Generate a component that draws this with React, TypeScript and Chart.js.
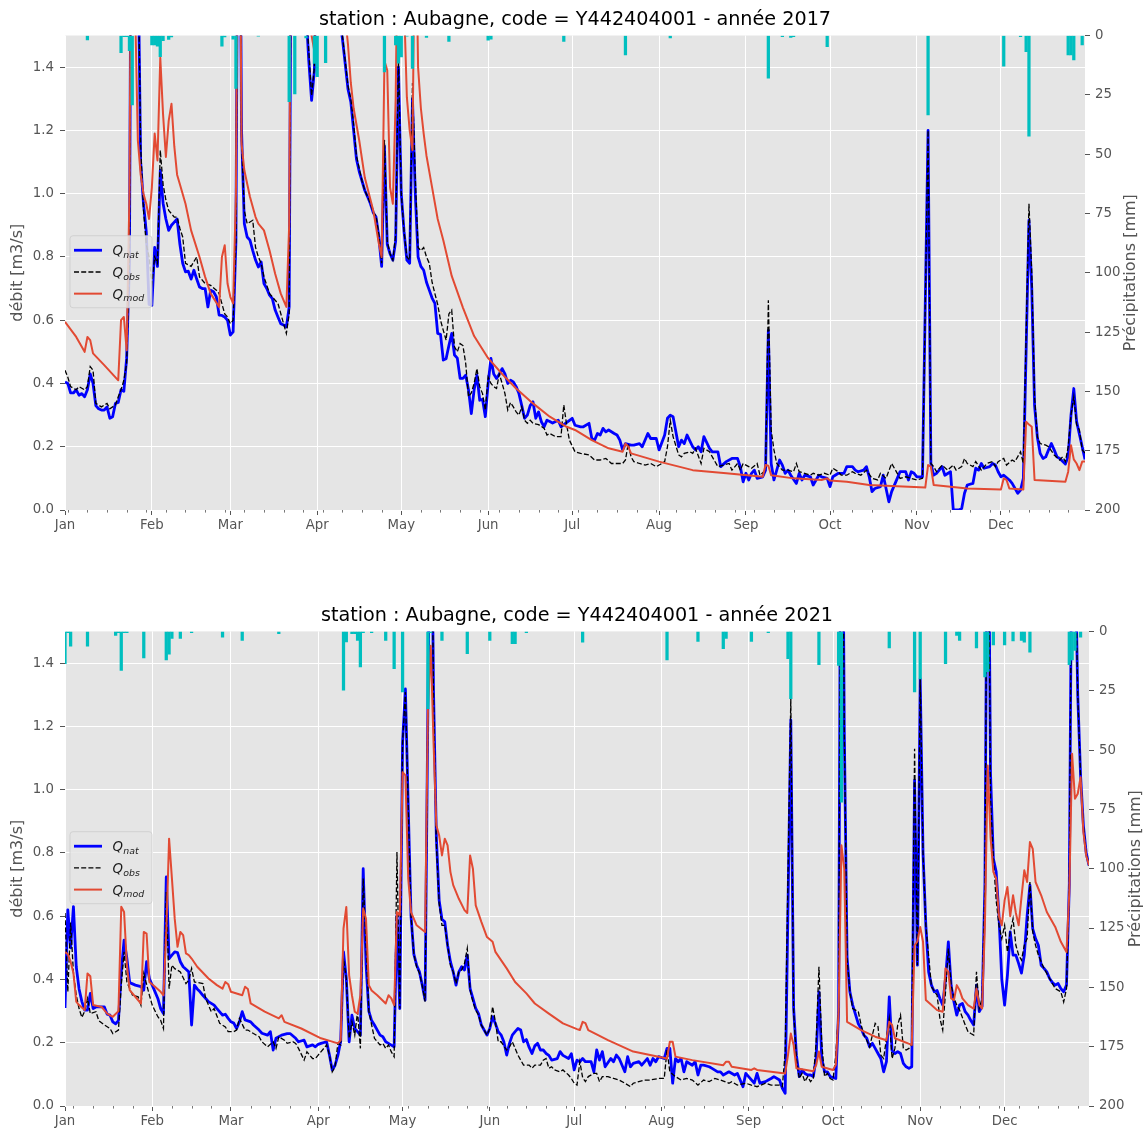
import React, { useEffect, useRef } from "react";
import { Chart, registerables } from "chart.js";

Chart.register(...registerables);
Chart.defaults.font.family = '"DejaVu Sans", sans-serif';

type P = [number, number];

// ---------- axes / labels ----------
const MONTH_STARTS = [0, 31, 59, 90, 120, 151, 181, 212, 243, 273, 304, 334];
const MONTH_LABELS = ["Jan", "Feb", "Mar", "Apr", "May", "Jun", "Jul", "Aug", "Sep", "Oct", "Nov", "Dec"];
const FLOW_TICKS = [0, 0.2, 0.4, 0.6, 0.8, 1.0, 1.2, 1.4];
const RAIN_TICKS = [0, 25, 50, 75, 100, 125, 150, 175, 200];
const FIRST_MONDAY_2017 = 1;
const FIRST_MONDAY_2021 = 3;
const TITLE_2017 = "station : Aubagne, code = Y442404001 - année 2017";
const TITLE_2021 = "station : Aubagne, code = Y442404001 - année 2021";
const Y_LABEL = "débit [m3/s]";
const Y2_LABEL = "Précipitations [mm]";

// ---------- 2017 (day of year, value) ----------
const QNAT_2017: P[] = [
  [0,0.405],[1,0.40],[2,0.37],[3,0.37],[4,0.38],[5,0.363],[6,0.368],[7,0.358],[8,0.38],[9,0.43],[10,0.40],[11,0.33],[12,0.32],[13,0.316],[14,0.316],[15,0.326],[16,0.29],[17,0.295],[18,0.337],[19,0.34],[20,0.38],[21,0.375],[22,0.48],[23,0.78],[24,2.8],[25,2.6],[26,1.8],[27,1.1],[28,0.97],[29,0.88],[30,0.65],[31,0.647],[32,0.83],[33,0.77],[34,1.074],[35,0.97],[36,0.92],[37,0.884],[38,0.90],[39,0.91],[40,0.92],[41,0.84],[42,0.78],[43,0.753],[44,0.755],[45,0.73],[46,0.758],[47,0.73],[48,0.705],[49,0.70],[50,0.70],[51,0.642],[52,0.695],[53,0.69],[54,0.674],[55,0.616],[56,0.615],[57,0.61],[58,0.60],[59,0.553],[60,0.563],[61,0.85],[62,2.6],[63,1.2],[64,0.905],[65,0.863],[66,0.853],[67,0.82],[68,0.79],[69,0.768],[70,0.784],[71,0.716],[72,0.70],[73,0.679],[74,0.668],[75,0.632],[76,0.61],[77,0.589],[78,0.585],[79,0.579],[80,0.642],[81,2.4],[82,3.0],[83,2.6],[84,2.2],[85,1.8],[86,1.58],[87,1.42],[88,1.295],[89,1.39],[90,2.0],[92,2.6],[95,2.2],[97,1.7],[98,1.55],[99,1.49],[100,1.41],[101,1.33],[102,1.29],[103,1.2],[104,1.11],[105,1.07],[106,1.04],[107,1.01],[108,0.99],[109,0.968],[110,0.94],[111,0.926],[112,0.863],[113,0.77],[114,1.15],[115,0.84],[116,0.81],[117,0.79],[118,0.85],[119,1.40],[120,1.0],[121,0.88],[122,0.79],[123,0.78],[124,1.30],[125,1.0],[126,0.80],[127,0.77],[128,0.758],[129,0.72],[130,0.695],[131,0.67],[132,0.653],[133,0.558],[134,0.555],[135,0.474],[136,0.478],[137,0.52],[138,0.558],[139,0.49],[140,0.48],[141,0.416],[142,0.416],[143,0.426],[144,0.379],[145,0.305],[146,0.38],[147,0.426],[148,0.347],[149,0.35],[150,0.295],[151,0.40],[152,0.479],[153,0.43],[154,0.416],[155,0.43],[156,0.447],[157,0.43],[158,0.40],[159,0.41],[160,0.405],[161,0.39],[162,0.368],[163,0.33],[164,0.29],[165,0.30],[166,0.33],[167,0.342],[168,0.29],[169,0.31],[170,0.279],[171,0.263],[172,0.284],[173,0.28],[174,0.275],[176,0.284],[177,0.263],[178,0.27],[181,0.29],[182,0.268],[184,0.263],[185,0.263],[187,0.274],[188,0.226],[189,0.221],[190,0.242],[191,0.237],[192,0.258],[193,0.247],[194,0.253],[196,0.242],[197,0.237],[198,0.221],[199,0.19],[200,0.21],[202,0.205],[203,0.205],[205,0.21],[206,0.2],[208,0.242],[209,0.226],[211,0.226],[212,0.19],[214,0.237],[215,0.29],[216,0.30],[217,0.295],[219,0.20],[220,0.221],[221,0.21],[222,0.237],[224,0.20],[225,0.19],[226,0.2],[227,0.184],[228,0.232],[230,0.195],[231,0.184],[233,0.184],[234,0.137],[236,0.153],[238,0.163],[240,0.163],[241,0.137],[242,0.089],[243,0.116],[244,0.095],[245,0.116],[246,0.126],[247,0.10],[249,0.105],[250,0.126],[251,0.568],[252,0.147],[253,0.095],[254,0.126],[255,0.158],[256,0.142],[257,0.116],[258,0.126],[259,0.11],[261,0.084],[262,0.116],[263,0.095],[264,0.11],[266,0.105],[267,0.079],[269,0.11],[270,0.105],[272,0.10],[273,0.074],[274,0.105],[276,0.116],[278,0.116],[279,0.137],[281,0.137],[282,0.126],[283,0.121],[285,0.126],[286,0.137],[287,0.105],[288,0.058],[289,0.068],[291,0.074],[292,0.11],[293,0.068],[294,0.026],[295,0.058],[297,0.10],[298,0.121],[300,0.121],[301,0.095],[302,0.121],[303,0.116],[304,0.105],[306,0.105],[308,1.2],[309,0.147],[310,0.11],[311,0.116],[313,0.137],[314,0.11],[316,0.121],[317,0.0],[319,0.0],[320,0.005],[321,0.053],[322,0.079],[324,0.084],[325,0.132],[326,0.126],[327,0.147],[328,0.132],[330,0.137],[331,0.147],[332,0.142],[333,0.121],[334,0.105],[335,0.11],[337,0.095],[338,0.084],[340,0.053],[341,0.063],[342,0.1],[344,0.916],[345,0.70],[346,0.33],[347,0.23],[348,0.179],[349,0.163],[350,0.168],[351,0.19],[352,0.21],[353,0.19],[354,0.168],[355,0.163],[357,0.145],[358,0.17],[359,0.3],[360,0.384],[361,0.28],[362,0.24],[363,0.2],[364,0.16]
];

const QOBS_2017: P[] = [
  [0,0.442],[1,0.42],[2,0.39],[3,0.385],[4,0.38],[5,0.39],[7,0.38],[8,0.39],[9,0.453],[10,0.442],[11,0.337],[13,0.326],[15,0.337],[16,0.32],[18,0.332],[19,0.358],[20,0.38],[21,0.41],[22,0.463],[23,0.78],[24,2.8],[25,2.6],[26,1.8],[27,1.15],[28,0.95],[29,0.84],[30,0.80],[31,0.716],[32,0.80],[33,0.78],[34,1.137],[35,1.03],[36,0.98],[37,0.947],[39,0.926],[40,0.926],[41,0.89],[42,0.863],[43,0.78],[45,0.77],[47,0.80],[48,0.737],[50,0.716],[52,0.71],[54,0.695],[55,0.684],[57,0.62],[58,0.61],[59,0.589],[60,0.60],[61,0.85],[62,2.6],[63,1.168],[64,0.947],[65,0.905],[67,0.916],[68,0.83],[69,0.80],[70,0.78],[71,0.737],[73,0.684],[75,0.663],[76,0.653],[78,0.589],[79,0.558],[80,0.62],[81,2.4],[82,3.0],[83,2.6],[84,2.2],[85,1.8],[86,1.6],[87,1.45],[88,1.31],[89,1.40],[90,2.0],[92,2.6],[95,2.2],[97,1.7],[98,1.55],[99,1.50],[100,1.42],[101,1.34],[102,1.30],[103,1.22],[104,1.12],[105,1.08],[106,1.04],[107,1.01],[108,0.99],[109,0.97],[110,0.94],[111,0.93],[112,0.87],[113,0.78],[114,1.17],[115,0.85],[116,0.81],[117,0.79],[118,0.87],[119,1.43],[120,1.0],[121,0.88],[122,0.80],[123,0.79],[124,1.35],[125,1.05],[126,0.83],[127,0.82],[128,0.83],[129,0.80],[130,0.78],[131,0.72],[132,0.684],[133,0.65],[134,0.60],[135,0.568],[136,0.537],[137,0.62],[138,0.632],[139,0.516],[140,0.50],[141,0.526],[142,0.52],[143,0.463],[144,0.358],[145,0.37],[146,0.40],[147,0.447],[148,0.39],[149,0.368],[150,0.316],[151,0.42],[152,0.40],[153,0.39],[154,0.384],[155,0.43],[156,0.40],[157,0.368],[158,0.316],[159,0.34],[160,0.326],[161,0.31],[162,0.30],[163,0.326],[164,0.284],[165,0.274],[166,0.284],[167,0.274],[169,0.27],[171,0.258],[172,0.237],[173,0.242],[175,0.232],[177,0.232],[178,0.332],[179,0.27],[180,0.221],[182,0.184],[184,0.179],[187,0.174],[189,0.158],[191,0.158],[193,0.163],[195,0.147],[197,0.147],[199,0.147],[200,0.158],[201,0.21],[202,0.168],[203,0.153],[205,0.147],[207,0.142],[209,0.147],[211,0.137],[213,0.147],[214,0.153],[215,0.2],[216,0.284],[217,0.232],[219,0.174],[220,0.168],[221,0.179],[223,0.184],[224,0.179],[225,0.195],[227,0.147],[228,0.195],[230,0.184],[231,0.168],[233,0.137],[235,0.142],[237,0.147],[238,0.126],[240,0.147],[241,0.126],[242,0.147],[244,0.137],[245,0.132],[247,0.147],[248,0.11],[250,0.126],[251,0.663],[252,0.253],[253,0.19],[254,0.147],[256,0.126],[258,0.126],[260,0.121],[261,0.147],[262,0.121],[264,0.116],[266,0.11],[267,0.116],[269,0.11],[271,0.116],[273,0.11],[274,0.132],[276,0.121],[277,0.11],[279,0.11],[281,0.121],[282,0.116],[284,0.11],[286,0.126],[288,0.10],[290,0.095],[291,0.116],[293,0.10],[295,0.147],[297,0.116],[298,0.10],[300,0.105],[302,0.10],[304,0.095],[306,0.10],[308,1.2],[309,0.147],[310,0.137],[311,0.121],[313,0.142],[315,0.126],[317,0.142],[318,0.126],[320,0.137],[321,0.163],[322,0.147],[324,0.137],[325,0.153],[327,0.126],[329,0.147],[331,0.153],[332,0.137],[333,0.153],[335,0.163],[336,0.142],[338,0.158],[339,0.153],[341,0.184],[342,0.147],[344,0.968],[345,0.75],[346,0.358],[347,0.232],[348,0.21],[350,0.205],[351,0.2],[353,0.174],[355,0.158],[356,0.168],[357,0.153],[358,0.2],[359,0.3],[360,0.358],[361,0.27],[362,0.253],[363,0.19],[364,0.18]
];

const QMOD_2017: P[] = [
  [0,0.595],[4,0.547],[7,0.50],[8,0.547],[9,0.537],[10,0.495],[14,0.458],[19,0.41],[20,0.60],[21,0.61],[22,0.505],[23,1.0],[24,2.5],[25,1.6],[26,1.168],[27,1.06],[28,1.0],[29,0.968],[30,0.92],[31,1.02],[32,1.19],[33,1.105],[34,1.43],[35,1.25],[36,1.116],[37,1.23],[38,1.284],[39,1.15],[40,1.06],[41,1.03],[43,0.968],[45,0.884],[48,0.80],[50,0.737],[52,0.684],[55,0.642],[56,0.80],[57,0.837],[58,0.716],[59,0.674],[60,0.653],[61,1.0],[62,2.5],[63,1.158],[64,1.074],[66,0.99],[68,0.926],[69,0.905],[71,0.884],[73,0.82],[75,0.747],[77,0.684],[79,0.642],[80,0.9],[81,2.5],[84,2.4],[86,1.9],[88,1.5],[89,1.45],[90,2.0],[95,2.2],[99,1.7],[100,1.56],[101,1.47],[102,1.35],[103,1.27],[105,1.168],[107,1.05],[110,0.947],[112,0.842],[113,0.80],[114,1.42],[115,1.39],[116,1.02],[117,0.968],[118,1.3],[119,2.0],[120,2.0],[121,1.6],[122,1.305],[123,1.2],[124,1.137],[125,2.0],[126,1.4],[127,1.27],[128,1.19],[129,1.12],[131,1.02],[133,0.92],[135,0.853],[138,0.74],[142,0.64],[146,0.55],[151,0.48],[156,0.43],[161,0.384],[167,0.337],[173,0.295],[179,0.263],[182,0.253],[188,0.221],[194,0.195],[199,0.184],[200,0.21],[201,0.20],[202,0.179],[212,0.153],[224,0.126],[236,0.116],[249,0.105],[250,0.142],[251,0.14],[252,0.11],[260,0.10],[270,0.095],[272,0.10],[273,0.093],[279,0.089],[287,0.079],[299,0.074],[307,0.071],[308,0.142],[309,0.137],[310,0.079],[322,0.068],[334,0.065],[335,0.10],[336,0.095],[337,0.068],[342,0.065],[343,0.279],[344,0.27],[345,0.263],[346,0.095],[357,0.089],[358,0.121],[359,0.205],[360,0.16],[361,0.147],[362,0.126],[363,0.153],[364,0.153]
];

const RAIN_2017: P[] = [
  [8,1.9],[20,7.2],[21,0.5],[22,0.5],[23,6.4],[24,29.3],[31,4],[32,4],[33,4.5],[34,8.9],[35,2.2],[37,1.6],[38,0.6],[56,4.5],[57,0.6],[60,1.5],[61,22.3],[69,0.3],[80,27.9],[82,24.6],[86,1],[89,11.8],[90,17.4],[93,11.5],[114,15.3],[118,4],[119,11.7],[120,9],[122,0.3],[124,13.9],[129,0.8],[137,2.5],[151,2],[152,1.5],[178,2.5],[200,8.2],[216,1],[251,18],[256,0.5],[259,0.8],[260,0.5],[272,4.7],[308,33.5],[335,12.9],[341,0.5],[343,6.8],[344,42.4],[358,8.2],[359,8.2],[360,10.3],[363,4]
];

// ---------- 2021 (day of year, value) ----------
const QNAT_2021: P[] = [
  [0,0.31],[1,0.62],[2,0.50],[3,0.63],[4,0.44],[5,0.37],[6,0.33],[7,0.303],[8,0.303],[9,0.356],[10,0.308],[11,0.313],[12,0.313],[14,0.313],[15,0.29],[16,0.287],[17,0.266],[18,0.26],[19,0.27],[20,0.424],[21,0.524],[22,0.466],[23,0.39],[25,0.382],[27,0.377],[28,0.366],[29,0.456],[30,0.403],[31,0.382],[33,0.34],[34,0.308],[35,0.292],[36,0.724],[37,0.466],[38,0.477],[39,0.487],[40,0.485],[41,0.456],[42,0.44],[43,0.432],[44,0.424],[45,0.256],[46,0.382],[47,0.37],[48,0.361],[49,0.35],[51,0.33],[53,0.319],[54,0.308],[56,0.287],[57,0.29],[58,0.277],[59,0.266],[60,0.262],[61,0.245],[62,0.266],[63,0.298],[64,0.272],[66,0.266],[67,0.256],[69,0.24],[70,0.23],[72,0.224],[73,0.235],[74,0.177],[75,0.214],[77,0.224],[79,0.229],[80,0.229],[82,0.214],[83,0.203],[85,0.208],[86,0.187],[88,0.193],[89,0.187],[90,0.195],[91,0.198],[93,0.203],[94,0.161],[95,0.114],[96,0.129],[97,0.16],[98,0.205],[99,0.487],[100,0.403],[101,0.203],[102,0.287],[103,0.245],[104,0.235],[105,0.224],[106,0.75],[107,0.45],[108,0.30],[109,0.27],[110,0.256],[111,0.24],[112,0.224],[113,0.219],[114,0.203],[115,0.198],[117,0.187],[118,0.603],[119,0.308],[120,1.15],[121,1.318],[122,0.95],[123,0.6],[124,0.48],[125,0.445],[126,0.424],[127,0.382],[128,0.335],[130,2.2],[131,1.31],[132,0.85],[133,0.65],[134,0.59],[135,0.582],[136,0.508],[137,0.456],[138,0.424],[139,0.382],[140,0.424],[141,0.44],[142,0.43],[143,0.477],[144,0.371],[145,0.34],[146,0.308],[147,0.292],[148,0.256],[150,0.224],[151,0.245],[152,0.282],[153,0.26],[154,0.235],[155,0.225],[156,0.203],[157,0.161],[158,0.198],[159,0.224],[160,0.235],[161,0.245],[162,0.24],[163,0.203],[164,0.21],[165,0.185],[166,0.166],[167,0.19],[168,0.198],[169,0.177],[170,0.177],[171,0.166],[172,0.16],[173,0.145],[175,0.15],[176,0.172],[177,0.16],[179,0.15],[180,0.165],[181,0.114],[182,0.145],[183,0.14],[184,0.15],[185,0.14],[187,0.14],[188,0.108],[189,0.177],[190,0.145],[191,0.172],[192,0.124],[194,0.15],[195,0.14],[196,0.161],[197,0.15],[199,0.108],[200,0.156],[201,0.124],[202,0.135],[204,0.14],[205,0.129],[207,0.15],[208,0.129],[209,0.15],[210,0.14],[211,0.156],[213,0.15],[214,0.182],[215,0.182],[216,0.072],[217,0.15],[218,0.14],[219,0.15],[220,0.108],[221,0.14],[223,0.129],[224,0.14],[225,0.098],[226,0.129],[227,0.129],[229,0.124],[230,0.119],[232,0.108],[233,0.108],[234,0.098],[236,0.108],[238,0.098],[239,0.103],[240,0.082],[241,0.061],[242,0.103],[243,0.093],[245,0.072],[246,0.103],[247,0.072],[249,0.077],[250,0.082],[251,0.087],[252,0.093],[254,0.082],[255,0.056],[256,0.04],[258,1.22],[259,0.31],[260,0.16],[261,0.093],[262,0.114],[263,0.103],[264,0.098],[265,0.098],[266,0.093],[267,0.15],[268,0.361],[269,0.15],[270,0.108],[271,0.108],[272,0.093],[274,0.087],[275,0.3],[276,2.6],[277,1.2],[278,0.47],[279,0.361],[280,0.319],[282,0.26],[283,0.245],[284,0.224],[285,0.214],[286,0.187],[287,0.198],[288,0.182],[289,0.166],[290,0.15],[291,0.108],[292,0.14],[293,0.345],[294,0.175],[295,0.166],[296,0.172],[297,0.166],[298,0.135],[299,0.124],[300,0.119],[301,0.124],[302,1.03],[303,0.445],[304,1.35],[305,0.8],[306,0.571],[307,0.424],[308,0.382],[309,0.361],[310,0.365],[311,0.34],[312,0.319],[313,0.403],[314,0.519],[315,0.38],[316,0.329],[317,0.287],[318,0.319],[319,0.324],[320,0.298],[321,0.287],[322,0.27],[323,0.256],[324,0.382],[325,0.298],[326,0.315],[327,0.7],[328,2.2],[329,1.05],[330,0.782],[331,0.74],[332,0.6],[333,0.4],[334,0.319],[335,0.413],[336,0.55],[337,0.477],[338,0.477],[339,0.45],[340,0.42],[341,0.477],[342,0.6],[343,0.698],[344,0.56],[345,0.529],[346,0.508],[347,0.445],[348,0.435],[349,0.424],[350,0.403],[351,0.39],[352,0.382],[353,0.387],[354,0.371],[355,0.361],[356,0.382],[357,0.7],[358,2.0],[359,1.8],[360,1.3],[361,1.045],[362,0.887],[363,0.8],[364,0.76]
];

const QOBS_2021: P[] = [
  [0,0.61],[1,0.361],[2,0.58],[3,0.42],[4,0.35],[5,0.308],[6,0.28],[7,0.30],[8,0.34],[9,0.292],[11,0.298],[12,0.27],[14,0.256],[16,0.245],[17,0.229],[19,0.24],[20,0.382],[21,0.487],[22,0.392],[24,0.35],[26,0.345],[27,0.319],[28,0.419],[30,0.35],[31,0.319],[33,0.282],[34,0.271],[35,0.245],[36,0.676],[37,0.371],[38,0.445],[39,0.434],[41,0.424],[43,0.387],[44,0.398],[45,0.435],[46,0.392],[49,0.387],[50,0.34],[52,0.298],[53,0.308],[55,0.261],[57,0.25],[58,0.235],[60,0.235],[61,0.24],[62,0.277],[64,0.24],[65,0.24],[67,0.229],[69,0.219],[70,0.203],[72,0.187],[74,0.203],[75,0.182],[76,0.219],[78,0.208],[79,0.198],[81,0.203],[82,0.198],[83,0.182],[85,0.145],[86,0.171],[88,0.15],[89,0.15],[90,0.161],[92,0.182],[93,0.193],[94,0.161],[95,0.108],[96,0.124],[97,0.198],[98,0.193],[99,0.466],[100,0.403],[101,0.214],[102,0.266],[103,0.224],[104,0.298],[105,0.182],[106,0.719],[107,0.508],[108,0.3],[109,0.256],[110,0.214],[111,0.203],[112,0.193],[113,0.198],[114,0.182],[115,0.193],[116,0.171],[117,0.156],[118,0.803],[119,0.308],[120,1.15],[121,1.308],[122,0.95],[123,0.6],[124,0.48],[125,0.44],[126,0.42],[127,0.38],[128,0.33],[130,2.2],[131,1.29],[132,0.83],[133,0.64],[134,0.571],[135,0.571],[136,0.508],[137,0.445],[138,0.424],[139,0.387],[140,0.424],[141,0.43],[142,0.45],[143,0.498],[144,0.366],[145,0.329],[146,0.303],[147,0.287],[148,0.256],[150,0.224],[151,0.245],[152,0.314],[153,0.266],[154,0.203],[155,0.203],[157,0.177],[158,0.187],[159,0.203],[160,0.182],[161,0.161],[163,0.129],[165,0.129],[166,0.119],[167,0.129],[169,0.129],[170,0.145],[171,0.15],[172,0.119],[173,0.124],[174,0.114],[176,0.108],[177,0.114],[179,0.098],[180,0.087],[181,0.072],[182,0.066],[183,0.14],[184,0.09],[185,0.077],[186,0.093],[188,0.103],[189,0.103],[190,0.077],[191,0.093],[193,0.093],[195,0.087],[197,0.082],[199,0.072],[201,0.061],[202,0.072],[204,0.077],[206,0.082],[208,0.082],[211,0.087],[213,0.087],[214,0.177],[215,0.108],[217,0.093],[219,0.082],[221,0.087],[223,0.082],[225,0.066],[227,0.082],[229,0.077],[231,0.087],[233,0.082],[236,0.072],[237,0.077],[239,0.066],[242,0.072],[244,0.066],[246,0.061],[249,0.072],[251,0.066],[254,0.066],[255,0.061],[256,0.171],[258,1.287],[259,0.3],[260,0.15],[261,0.087],[262,0.103],[263,0.077],[264,0.093],[265,0.077],[266,0.087],[267,0.2],[268,0.44],[269,0.2],[270,0.093],[271,0.103],[272,0.087],[273,0.082],[274,0.161],[275,0.3],[276,2.6],[277,1.2],[278,0.466],[279,0.361],[280,0.308],[282,0.298],[283,0.256],[284,0.224],[285,0.208],[286,0.187],[287,0.224],[288,0.261],[289,0.251],[290,0.161],[291,0.15],[292,0.214],[293,0.277],[294,0.15],[295,0.182],[296,0.256],[297,0.287],[298,0.182],[299,0.177],[300,0.182],[301,0.193],[302,1.129],[303,0.445],[304,1.35],[305,0.8],[306,0.571],[308,0.377],[310,0.35],[311,0.277],[312,0.24],[313,0.361],[314,0.498],[315,0.382],[316,0.34],[317,0.319],[318,0.303],[320,0.256],[321,0.235],[322,0.229],[323,0.224],[324,0.424],[325,0.308],[326,0.34],[327,0.7],[328,2.2],[329,0.971],[330,0.782],[331,0.65],[332,0.57],[333,0.529],[334,0.571],[335,0.487],[336,0.55],[337,0.592],[338,0.508],[339,0.477],[340,0.461],[341,0.508],[342,0.529],[343,0.708],[344,0.55],[345,0.508],[346,0.477],[348,0.435],[350,0.403],[352,0.371],[354,0.361],[355,0.329],[356,0.371],[357,0.7],[358,2.0],[359,1.8],[360,1.3],[361,1.045],[362,0.887],[363,0.8],[364,0.76]
];

const QMOD_2021: P[] = [
  [0,0.487],[1,0.48],[2,0.456],[3,0.42],[4,0.33],[5,0.319],[7,0.303],[8,0.419],[9,0.41],[10,0.319],[13,0.313],[15,0.292],[17,0.282],[19,0.30],[20,0.63],[21,0.613],[22,0.445],[23,0.366],[27,0.324],[28,0.55],[29,0.545],[30,0.392],[32,0.377],[34,0.361],[35,0.35],[36,0.55],[37,0.845],[38,0.72],[39,0.592],[40,0.503],[41,0.55],[42,0.54],[43,0.482],[44,0.477],[45,0.466],[47,0.44],[51,0.403],[54,0.382],[56,0.371],[57,0.392],[58,0.385],[59,0.361],[63,0.35],[64,0.377],[65,0.37],[66,0.324],[71,0.298],[76,0.277],[77,0.287],[78,0.266],[84,0.245],[91,0.214],[97,0.198],[98,0.208],[99,0.561],[100,0.629],[101,0.413],[102,0.35],[103,0.298],[104,0.292],[105,0.35],[106,0.624],[107,0.592],[108,0.382],[109,0.365],[111,0.35],[114,0.324],[115,0.35],[116,0.34],[117,0.319],[118,0.613],[119,0.603],[120,1.055],[121,1.045],[122,0.719],[123,0.613],[125,0.571],[128,0.55],[129,1.255],[130,1.455],[131,1.15],[132,0.887],[133,0.855],[134,0.792],[135,0.845],[136,0.824],[137,0.74],[138,0.698],[140,0.655],[142,0.619],[143,0.61],[144,0.792],[145,0.75],[146,0.634],[148,0.582],[150,0.534],[152,0.519],[153,0.487],[157,0.435],[160,0.392],[164,0.356],[167,0.324],[172,0.292],[177,0.261],[182,0.243],[183,0.24],[184,0.266],[185,0.262],[186,0.24],[193,0.208],[202,0.172],[214,0.15],[215,0.203],[216,0.203],[217,0.156],[223,0.145],[234,0.129],[235,0.14],[236,0.14],[237,0.124],[244,0.114],[245,0.119],[246,0.114],[256,0.103],[257,0.161],[258,0.229],[259,0.193],[260,0.119],[266,0.11],[267,0.129],[268,0.172],[269,0.124],[273,0.114],[274,0.13],[275,0.3],[276,0.824],[277,0.75],[278,0.266],[283,0.24],[288,0.219],[292,0.208],[293,0.266],[294,0.256],[295,0.214],[301,0.193],[302,0.508],[303,0.52],[304,0.566],[305,0.519],[306,0.335],[308,0.319],[310,0.303],[312,0.298],[313,0.435],[314,0.424],[315,0.34],[316,0.335],[317,0.382],[318,0.366],[319,0.34],[321,0.319],[323,0.308],[324,0.371],[325,0.319],[326,0.308],[327,0.571],[328,1.076],[329,0.85],[330,0.74],[331,0.719],[332,0.6],[333,0.571],[334,0.65],[335,0.692],[336,0.60],[337,0.666],[338,0.61],[339,0.571],[340,0.66],[341,0.745],[342,0.708],[343,0.834],[344,0.813],[345,0.708],[347,0.666],[349,0.613],[352,0.566],[354,0.519],[356,0.487],[357,0.676],[358,1.113],[359,0.971],[360,0.987],[361,1.039],[362,0.866],[363,0.792],[364,0.761]
];

const RAIN_2021: P[] = [
  [0,13.6],[1,0.5],[2,6.2],[8,6.2],[18,1.7],[19,0.5],[20,16.4],[21,0.5],[22,0.5],[28,11.2],[36,12],[37,9.6],[38,3],[41,3],[45,0.5],[56,2.4],[63,3.8],[76,1],[99,24.8],[100,4.4],[102,1],[103,1],[104,3.8],[105,15],[106,0.5],[109,0.5],[114,3.8],[117,15.7],[120,25.5],[129,32.6],[130,0.5],[134,3.8],[143,9.4],[151,3.8],[159,5.2],[160,5.2],[164,0.5],[184,4.5],[214,12],[225,4.2],[234,7.3],[235,3],[244,4.2],[250,0.5],[257,11.5],[258,28.3],[268,14],[275,14.3],[276,72],[293,7],[302,25.5],[304,20],[313,13.6],[317,1.7],[318,3.8],[324,7],[327,19.2],[328,17],[330,5.7],[334,5.7],[337,4],[340,3.8],[341,4.5],[343,8.7],[357,14],[358,12],[359,8],[361,2.4]
];

// ---------- layout ----------
const FIG_W = 1143;
const FIG_H = 1128;

interface Panel {
  title: string;
  nat: P[];
  obs: P[];
  mod: P[];
  rain: P[];
  firstMonday: number;
  canvasTop: number;
  canvasH: number;
  plotTop: number;
  plotBottom: number;
  plotRight: number;
  rightLabelX: number;
}

const PANELS: Panel[] = [
  { title: TITLE_2017, nat: QNAT_2017, obs: QOBS_2017, mod: QMOD_2017, rain: RAIN_2017, firstMonday: FIRST_MONDAY_2017,
    canvasTop: 0, canvasH: 560, plotTop: 35.5, plotBottom: 510, plotRight: 1085, rightLabelX: 1131 },
  { title: TITLE_2021, nat: QNAT_2021, obs: QOBS_2021, mod: QMOD_2021, rain: RAIN_2021, firstMonday: FIRST_MONDAY_2021,
    canvasTop: 595, canvasH: 540, plotTop: 36.4, plotBottom: 511, plotRight: 1089, rightLabelX: 1136 },
];

const FONT = '"DejaVu Sans", sans-serif';
const GREY = "#555555";
const BLUE = "#0000FF";
const RED = "#E24A33";
const CYAN = "#00BFBF";

const LEGEND = [
  { sub: "nat", color: BLUE, width: 2.8, dash: [] as number[] },
  { sub: "obs", color: "#000000", width: 1.4, dash: [5, 2.2] },
  { sub: "mod", color: RED, width: 2, dash: [] as number[] },
];

function makeDecor(p: Panel) {
  return {
    id: "decor",
    beforeDraw(chart: any) {
      const { ctx, chartArea: a } = chart;
      ctx.save();
      ctx.fillStyle = "#E5E5E5";
      ctx.fillRect(a.left, a.top, a.right - a.left, a.bottom - a.top);
      ctx.restore();
    },
    afterDraw(chart: any) {
      const { ctx, chartArea: a } = chart;
      const xs = chart.scales.x;
      ctx.save();
      // minor ticks (weekly)
      ctx.strokeStyle = GREY;
      ctx.lineWidth = 0.8;
      for (let d = p.firstMonday; d <= 364; d += 7) {
        if (MONTH_STARTS.indexOf(d) >= 0) continue;
        const px = Math.round(xs.getPixelForValue(d)) + 0.5;
        ctx.beginPath();
        ctx.moveTo(px, a.bottom);
        ctx.lineTo(px, a.bottom + 2.6);
        ctx.stroke();
      }
      // title
      ctx.fillStyle = "#000000";
      ctx.font = `19.2px ${FONT}`;
      ctx.textAlign = "center";
      ctx.textBaseline = "middle";
      ctx.fillText(p.title, (a.left + a.right) / 2, a.top - 15.5);
      // axis labels
      const midY = (a.top + a.bottom) / 2;
      ctx.fillStyle = GREY;
      ctx.font = `16px ${FONT}`;
      ctx.save();
      ctx.translate(18, midY);
      ctx.rotate(-Math.PI / 2);
      ctx.fillText(Y_LABEL, 0, 0);
      ctx.restore();
      ctx.save();
      ctx.translate(p.rightLabelX, midY);
      ctx.rotate(-Math.PI / 2);
      ctx.fillText(Y2_LABEL, 0, 0);
      ctx.restore();
      // legend
      const bx = a.left + 5;
      const by = midY - 37;
      const bw = 82;
      const bh = 72;
      const r = 3;
      ctx.beginPath();
      ctx.moveTo(bx + r, by);
      ctx.lineTo(bx + bw - r, by);
      ctx.arcTo(bx + bw, by, bx + bw, by + r, r);
      ctx.lineTo(bx + bw, by + bh - r);
      ctx.arcTo(bx + bw, by + bh, bx + bw - r, by + bh, r);
      ctx.lineTo(bx + r, by + bh);
      ctx.arcTo(bx, by + bh, bx, by + bh - r, r);
      ctx.lineTo(bx, by + r);
      ctx.arcTo(bx, by, bx + r, by, r);
      ctx.closePath();
      ctx.fillStyle = "rgba(229,229,229,0.85)";
      ctx.fill();
      ctx.strokeStyle = "rgba(204,204,204,0.8)";
      ctx.lineWidth = 1;
      ctx.stroke();
      LEGEND.forEach((e, i) => {
        const y = midY - 22.5 + i * 21.7;
        ctx.save();
        ctx.strokeStyle = e.color;
        ctx.lineWidth = e.width;
        ctx.setLineDash(e.dash);
        ctx.beginPath();
        ctx.moveTo(a.left + 9, y);
        ctx.lineTo(a.left + 37, y);
        ctx.stroke();
        ctx.restore();
        ctx.fillStyle = "#1a1a1a";
        ctx.textAlign = "left";
        ctx.textBaseline = "alphabetic";
        ctx.font = `italic 13.3px ${FONT}`;
        const qx = a.left + 47.5;
        ctx.fillText("Q", qx, y + 5);
        const qw = ctx.measureText("Q").width;
        ctx.font = `italic 9.4px ${FONT}`;
        ctx.fillText(e.sub, qx + qw + 0.3, y + 7.6);
      });
      ctx.restore();
    },
  };
}

function buildChart(canvas: HTMLCanvasElement, p: Panel): Chart {
  const toXY = (arr: P[]) => arr.map(([x, y]) => ({ x, y }));
  const tickFont = { size: 13.3, family: FONT };
  const lineBase = { type: "line" as const, yAxisID: "y", xAxisID: "x", pointRadius: 0, pointHoverRadius: 0, tension: 0, clip: 0, fill: false };
  const config: any = {
    type: "line",
    data: {
      datasets: [
        { type: "bar", label: "P", data: toXY(p.rain), yAxisID: "yR", xAxisID: "x", backgroundColor: CYAN, borderWidth: 0, barThickness: 2.6, order: 0, clip: 0 },
        { ...lineBase, label: "Qmod", data: toXY(p.mod), borderColor: RED, borderWidth: 2, borderJoinStyle: "round", order: 1 },
        { ...lineBase, label: "Qobs", data: toXY(p.obs), borderColor: "#000000", borderWidth: 1.3, borderDash: [5, 2.2], order: 2 },
        { ...lineBase, label: "Qnat", data: toXY(p.nat), borderColor: BLUE, borderWidth: 2.8, borderJoinStyle: "round", order: 3 },
      ],
    },
    options: {
      responsive: false,
      maintainAspectRatio: false,
      animation: false,
      events: [],
      layout: { padding: { top: p.plotTop, left: 0, right: 0, bottom: 0 }, autoPadding: false },
      plugins: { legend: { display: false }, tooltip: { enabled: false }, title: { display: false } },
      scales: {
        x: {
          type: "linear", position: "bottom", min: 0, max: 364, offset: false,
          afterBuildTicks: (s: any) => { s.ticks = MONTH_STARTS.map((v) => ({ value: v })); },
          ticks: { autoSkip: false, maxRotation: 0, minRotation: 0, padding: 3, color: GREY, font: tickFont,
            callback: (_v: any, i: number) => MONTH_LABELS[i] },
          grid: { color: "#ffffff", lineWidth: 1, drawTicks: true, tickLength: 5, tickColor: GREY, tickWidth: 1, offset: false },
          border: { display: false },
          afterFit: (s: any) => { s.height = p.canvasH - p.plotBottom; },
        },
        y: {
          type: "linear", position: "left", min: 0, max: 1.5,
          afterBuildTicks: (s: any) => { s.ticks = FLOW_TICKS.map((v) => ({ value: v })); },
          ticks: { padding: 6, color: GREY, font: tickFont, callback: (v: any) => Number(v).toFixed(1) },
          grid: { color: "#ffffff", lineWidth: 1, drawTicks: true, tickLength: 5, tickColor: GREY, tickWidth: 1 },
          border: { display: false },
          afterFit: (s: any) => { s.width = 65; },
        },
        yR: {
          type: "linear", position: "right", reverse: true, min: 0, max: 200,
          afterBuildTicks: (s: any) => { s.ticks = RAIN_TICKS.map((v) => ({ value: v })); },
          ticks: { padding: 5, color: GREY, font: tickFont, callback: (v: any) => String(v) },
          grid: { drawOnChartArea: false, drawTicks: true, tickLength: 5, tickColor: GREY, tickWidth: 1 },
          border: { display: false },
          afterFit: (s: any) => { s.width = FIG_W - p.plotRight; },
        },
      },
    },
    plugins: [makeDecor(p)],
  };
  return new Chart(canvas, config);
}

export default function App() {
  const topRef = useRef<HTMLCanvasElement | null>(null);
  const botRef = useRef<HTMLCanvasElement | null>(null);

  useEffect(() => {
    const charts: Chart[] = [];
    if (topRef.current) charts.push(buildChart(topRef.current, PANELS[0]));
    if (botRef.current) charts.push(buildChart(botRef.current, PANELS[1]));
    return () => charts.forEach((c) => c.destroy());
  }, []);

  return (
    <div style={{ position: "absolute", left: 0, top: 0, width: FIG_W, height: FIG_H, overflow: "hidden", background: "#ffffff" }}>
      <canvas ref={topRef} width={FIG_W} height={PANELS[0].canvasH}
        style={{ position: "absolute", left: 0, top: PANELS[0].canvasTop, width: FIG_W, height: PANELS[0].canvasH }} />
      <canvas ref={botRef} width={FIG_W} height={PANELS[1].canvasH}
        style={{ position: "absolute", left: 0, top: PANELS[1].canvasTop, width: FIG_W, height: PANELS[1].canvasH }} />
    </div>
  );
}
